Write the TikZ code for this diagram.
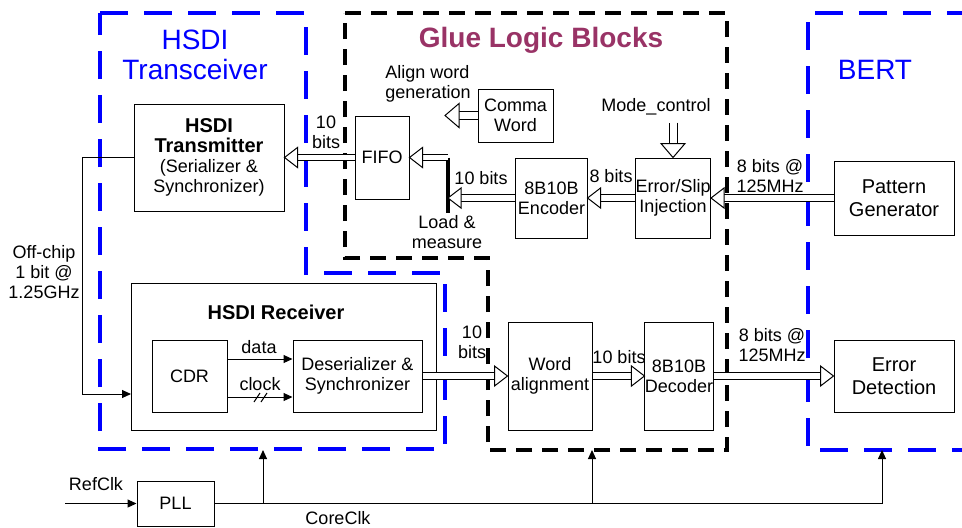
\documentclass[tikz,border=0pt]{standalone}
\usepackage{fontspec}
\setmainfont{Liberation Sans}
\usetikzlibrary{positioning, arrows.meta, calc, decorations.markings}
\definecolor{gluered}{RGB}{153,51,102}
\newcommand{\hdr}{\fontsize{10}{11.5}\selectfont\bfseries}
\newcommand{\txt}{\fontsize{9}{10}\selectfont\mdseries}
\begin{document}
\begin{tikzpicture}[x=0.5pt,y=-0.5pt,>=Stealth,
    font=\fontsize{9}{10}\selectfont,
    blk/.style={draw,line width=0.5pt,align=center,inner sep=1pt},
    bigblk/.style={blk,font=\fontsize{10}{11.5}\selectfont},
    lbl/.style={align=center,inner sep=0pt},
    sig/.style={line width=0.5pt,-{Triangle[length=4.5pt,width=4pt]}},
    opentip/.style 2 args={postaction={decorate,decoration={markings,
        mark=at position 1 with {\path[draw=black,fill=white,line width=0.5pt,line join=miter]
          (0pt,0pt) -- (-#1,#2) -- (-#1,-#2) -- cycle;}}}},
    bus/.style={double,double distance=2.6pt,line width=0.5pt,shorten >=3pt,opentip={6.5pt}{5pt}},
    hollow/.style={double,double distance=3.5pt,line width=0.5pt,shorten >=3pt,opentip={7pt}{6pt}},
    bluebox/.style={blue,line width=2pt,dash pattern=on 14pt off 8pt},
    gluebox/.style={black,line width=1.7pt,dash pattern=on 8pt off 5pt}]
      \useasboundingbox (0,0) rectangle (962,527);
      % group outlines
      \draw[bluebox] (100,13) -- (306,13) -- (306,273) -- (445,273) -- (445,449) -- (100,449) -- cycle;
      \draw[gluebox] (345,13) -- (727,13) -- (727,450) -- (488,450) -- (488,258) -- (345,258) -- cycle;
      \draw[bluebox] (975,13) -- (808,13) -- (808,450) -- (975,450);
      \node[lbl,blue,font=\fontsize{14}{15}\selectfont] at (195,55) {HSDI\\Transceiver};
      \node[lbl,gluered,font=\fontsize{14}{15}\selectfont\bfseries] at (541,40) {Glue Logic Blocks};
      \node[lbl,blue,font=\fontsize{14}{15}\selectfont] at (875,70) {BERT};
      % blocks
      \node[blk,minimum width=75pt,minimum height=53.5pt] (tx) at (209,157.5) {\hdr HSDI\\\hdr Transmitter\\\txt (Serializer \&\\\txt Synchronizer)};
      \node[blk,minimum width=27pt,minimum height=41.5pt] (fifo) at (382,157.5) {FIFO};
      \node[blk,minimum width=37.5pt,minimum height=26.5pt] (comma) at (515.5,115.5) {Comma\\Word};
      \node[blk,minimum width=34.5pt,minimum height=40pt] (enc) at (551.5,198) {8B10B\\Encoder};
      \node[blk,minimum width=36pt,minimum height=40pt,inner sep=0pt] (inj) at (673,198) {Error/Slip\\Injection};
      \node[bigblk,minimum width=60pt,minimum height=37pt] (patgen) at (894,198) {Pattern\\Generator};
      \node[blk,minimum width=152.5pt,minimum height=73.5pt] (rx) at (283.5,356.5) {};
      \node[lbl,font=\hdr] at (276,312) {HSDI Receiver};
      \node[blk,minimum width=37.5pt,minimum height=36pt] (cdr) at (189.5,376) {CDR};
      \node[blk,minimum width=64.5pt,minimum height=36pt] (deser) at (357.5,376) {Deserializer \&\\Synchronizer};
      \node[blk,minimum width=42pt,minimum height=54pt,inner sep=0pt] (walign) at (550,376) {Word\\alignment};
      \node[blk,minimum width=33pt,minimum height=54pt,inner sep=0pt] (dec) at (679,376) {8B10B\\Decoder};
      \node[bigblk,minimum width=60pt,minimum height=36pt] (errdet) at (894,376) {Error\\Detection};
      \node[blk,minimum width=38.5pt,minimum height=22.5pt] (pll) at (175.5,503.5) {PLL};
      % labels
      \node[lbl,align=left] (alignlbl) at (428,84) {Align word\\generation};
      \node[lbl] (mode) at (656,107) {Mode\_control};
      \node[lbl] at (326,132) {10\\bits};
      \node[lbl] at (481,178) {10 bits};
      \node[lbl] at (447,232) {Load \&\\measure};
      \node[lbl] at (611,176) {8 bits};
      \node[lbl] at (770,176) {8 bits @\\125MHz};
      \node[lbl] at (44,272) {Off-chip\\1 bit @\\1.25GHz};
      \node[lbl] at (259,347) {data};
      \node[lbl] at (260,384) {clock};
      \node[lbl] at (472,342) {10\\bits};
      \node[lbl] at (619,357) {10 bits};
      \node[lbl] at (772,345) {8 bits @\\125MHz};
      \node[lbl] at (96,484) {RefClk};
      \node[lbl] at (338,518) {CoreClk};
      % transmit path
      \coordinate (bartop) at (448,157.5);
      \coordinate (barbot) at (448,213);
      \coordinate (alignend) at (445,115.5);
      \draw[line width=1.8pt] (bartop) -- (barbot);
      \draw[bus] (patgen.west) -- (inj.east);
      \draw[bus] (inj.west) -- (enc.east);
      \draw[bus] (enc.west) -- (enc.west -| bartop);
      \draw[bus] (bartop) -- (fifo.east);
      \draw[bus] (fifo.west) -- (tx.east);
      \draw[hollow] (comma.west) -- (alignend);
      \draw[hollow] (inj.north |- mode.south) ++(0,7) -- (inj.north);
      % off-chip loop
      \coordinate (rxin) at (131,394);
      \draw[sig] (tx.west) -- ++(-51,0) |- (rxin);
      % receive path
      \draw[sig] ([yshift=8.5pt]cdr.east) -- ([yshift=8.5pt]deser.west);
      \draw[sig] ([yshift=-10.5pt]cdr.east) -- ([yshift=-10.5pt]deser.west);
      \draw[line width=0.5pt] (254,402) -- (260,393) (261,402) -- (267,393);
      \draw[bus] (deser.east) -- (walign.west);
      \draw[bus] (walign.east) -- (dec.west);
      \draw[bus] (dec.east) -- (errdet.west);
      % clocks
      \coordinate (refclk) at (65,503.5);
      \coordinate (tap1) at (263,503.5);
      \coordinate (tap2) at (592,503.5);
      \coordinate (tap3) at (882,503.5);
      \draw[sig] (refclk) -- (pll.west);
      \draw[line width=0.5pt] (pll.east) -- (tap3);
      \foreach \t in {tap1,tap2,tap3}
        \draw[sig] (\t) -- ++(0,-53.5);
    \end{tikzpicture}
\end{document}
